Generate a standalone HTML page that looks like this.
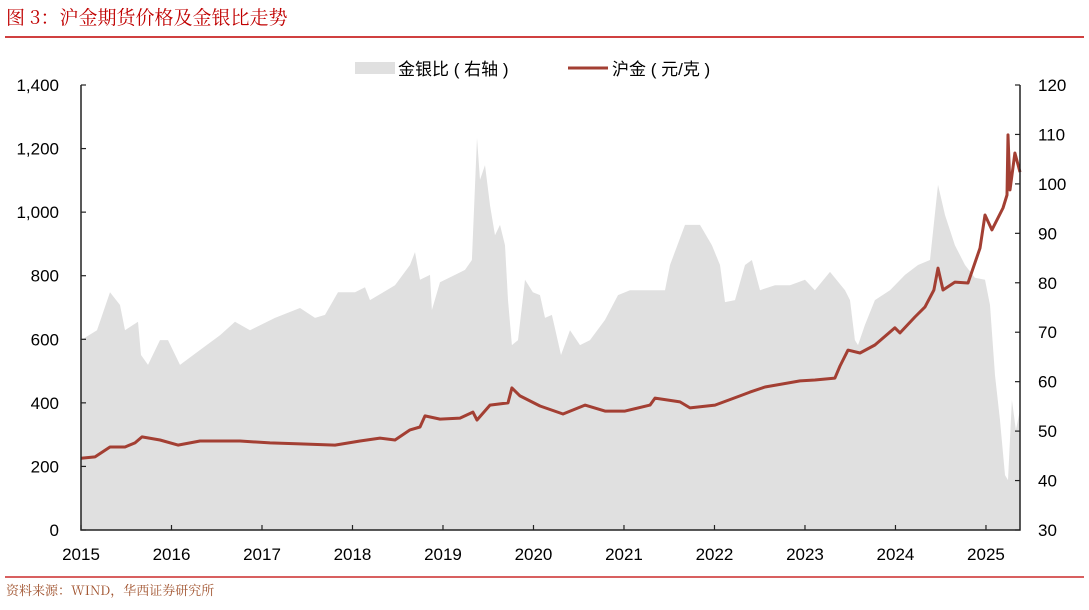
<!DOCTYPE html>
<html><head><meta charset="utf-8"><style>
body{margin:0;background:#fff;width:1089px;height:605px;overflow:hidden;font-family:"Liberation Sans","Noto Sans CJK SC",sans-serif}
svg text{font-family:"Liberation Sans","Noto Sans CJK SC",sans-serif}
</style></head><body>
<svg id="c" width="1089" height="605">
<text x="6" y="24" font-size="19" fill="#c00000" style="font-family:'Noto Serif CJK SC','Noto Sans CJK SC',serif">图 3：沪金期货价格及金银比走势</text>
<line x1="5" y1="37" x2="1084" y2="37" stroke="#c00000" stroke-width="1.5"/>
<g id="plot"></g>
<g>
<rect x="355" y="62" width="40" height="12" fill="#e0e0e0"/>
<text x="398" y="75" font-size="17" xml:space="preserve">金银比 ( 右轴 )</text>
<line x1="568" y1="68" x2="608" y2="68" stroke="#a33f33" stroke-width="3"/>
<text x="612" y="75" font-size="17" xml:space="preserve">沪金 ( 元/克 )</text>
</g>
<line x1="5" y1="577" x2="1084" y2="577" stroke="#c00000" stroke-width="1.2"/>
<text x="6" y="595" font-size="13" fill="#a0522d" style="font-family:'Noto Serif CJK SC','Noto Sans CJK SC',serif">资料来源：WIND，华西证券研究所</text>
</svg>
<script>
const goldDates=[2015.00,2015.155,2015.32,2015.486,2015.597,2015.674,2015.873,2016.072,2016.315,2016.757,2017.088,2017.42,2017.807,2018.083,2018.304,2018.47,2018.635,2018.746,2018.801,2018.967,2019.188,2019.331,2019.376,2019.519,2019.718,2019.762,2019.851,2020.072,2020.326,2020.569,2020.79,2021.011,2021.287,2021.343,2021.619,2021.729,2022.006,2022.282,2022.392,2022.558,2022.945,2023.11,2023.331,2023.387,2023.475,2023.608,2023.773,2023.994,2024.05,2024.215,2024.326,2024.425,2024.47,2024.525,2024.657,2024.801,2024.934,2024.989,2025.066,2025.188,2025.232,2025.243,2025.265,2025.32,2025.376];
const goldValues=[226,230,261,261,274,293,283,267,280,280,274,271,267,280,289,283,315,324,359,349,352,371,346,393,400,447,422,390,365,393,374,374,393,415,403,384,393,422,434,450,469,472,478,516,566,557,582,636,620,670,702,755,824,755,780,777,887,991,944,1013,1054,1243,1070,1186,1126];
const ratioDates=[2015.0,2015.177,2015.32,2015.431,2015.486,2015.63,2015.663,2015.74,2015.873,2015.961,2016.094,2016.315,2016.536,2016.702,2016.867,2017.144,2017.42,2017.586,2017.696,2017.84,2018.028,2018.138,2018.193,2018.47,2018.635,2018.691,2018.746,2018.856,2018.878,2018.967,2019.133,2019.243,2019.32,2019.376,2019.409,2019.464,2019.519,2019.575,2019.63,2019.685,2019.718,2019.762,2019.829,2019.906,2019.994,2020.072,2020.127,2020.204,2020.304,2020.403,2020.514,2020.624,2020.79,2020.934,2021.066,2021.232,2021.453,2021.508,2021.674,2021.84,2021.972,2022.061,2022.116,2022.227,2022.337,2022.414,2022.503,2022.669,2022.834,2023.0,2023.11,2023.276,2023.442,2023.497,2023.552,2023.586,2023.663,2023.773,2023.939,2024.105,2024.249,2024.381,2024.47,2024.547,2024.657,2024.768,2024.878,2024.989,2025.044,2025.1,2025.155,2025.21,2025.243,2025.287,2025.331,2025.376];
const ratioValues=[68.4,70.4,78.1,75.5,70.4,72.1,65.4,63.4,68.4,68.4,63.4,66.4,69.4,72.1,70.4,72.9,74.9,72.9,73.5,78.1,78.1,79.1,76.5,79.5,83.6,86.2,80.6,81.6,74.5,80.1,81.6,82.6,84.6,109.3,100.8,103.8,95.7,89.6,91.7,87.6,76.5,67.4,68.4,80.6,78.1,77.5,72.9,73.5,65.4,70.4,67.4,68.4,72.5,77.5,78.5,78.5,78.5,83.6,91.7,91.7,87.6,83.6,76.1,76.5,83.6,84.6,78.5,79.5,79.5,80.6,78.5,82.2,78.5,76.5,68.4,67.4,71.5,76.5,78.5,81.6,83.6,84.6,99.8,93.7,87.6,83.6,81.0,80.6,75.5,61.3,52.2,41.1,40.1,56.3,50.2,54.3];
const leftTicks=[0,200,400,600,800,1000,1200,1400];
const leftTickLabels=["0","200","400","600","800","1,000","1,200","1,400"];
const rightTicks=[30,40,50,60,70,80,90,100,110,120];
const yearTicks=[2015,2016,2017,2018,2019,2020,2021,2022,2023,2024,2025];

const X0=81,X1=1020,Y0=530,Y1=85;
const xMin=2015,xMax=2025.376;
const xs=d=>X0+(d-xMin)/(xMax-xMin)*(X1-X0);
const yl=v=>Y0-v/1400*(Y0-Y1);
const yr=v=>Y0-(v-30)/90*(Y0-Y1);
const NS="http://www.w3.org/2000/svg";
const g=document.getElementById('plot');
function mk(t,a){const e=document.createElementNS(NS,t);for(const k in a)e.setAttribute(k,a[k]);g.appendChild(e);return e;}

let d='M'+xs(ratioDates[0])+','+Y0;
ratioDates.forEach((t,i)=>{d+=' L'+xs(t).toFixed(1)+','+yr(ratioValues[i]).toFixed(1);});
d+=' L'+xs(ratioDates[ratioDates.length-1])+','+Y0+' Z';
const area=mk('path',{d:d,fill:'#e0e0e0'});



let p='';
goldDates.forEach((t,i)=>{p+=(i?' L':'M')+xs(t).toFixed(1)+','+yl(goldValues[i]).toFixed(1);});
const line=mk('path',{d:p,fill:'none',stroke:'#a33f33','stroke-width':3,'stroke-linejoin':'round'});



const ax=mk('path',{d:`M${X0},${Y1} L${X0},${Y0} L${X1},${Y0} L${X1},${Y1}`,fill:'none',stroke:'#222','stroke-width':1.5});



leftTicks.forEach((v,i)=>{
 const y=yl(v);
 const tk=mk('line',{x1:X0,x2:X0+5,y1:y,y2:y,stroke:'#222','stroke-width':1.2});
 
 
 const t=mk('text',{x:X0-22,y:y+6,'font-size':17,'text-anchor':'end'});
 t.textContent=leftTickLabels[i];
 
 
});
rightTicks.forEach(v=>{
 const y=yr(v);
 const tk=mk('line',{x1:X1-5,x2:X1,y1:y,y2:y,stroke:'#222','stroke-width':1.2});
 
 
 const t=mk('text',{x:X1+18,y:y+6,'font-size':17});
 t.textContent=v;
 
 
});
yearTicks.forEach(v=>{
 const x=xs(v);
 const tk=mk('line',{x1:x,x2:x,y1:Y0-5,y2:Y0,stroke:'#222','stroke-width':1.2});
 
 
 const t=mk('text',{x:x,y:Y0+30,'font-size':17,'text-anchor':'middle'});
 t.textContent=v;
 
 
});
</script>
</body></html>
